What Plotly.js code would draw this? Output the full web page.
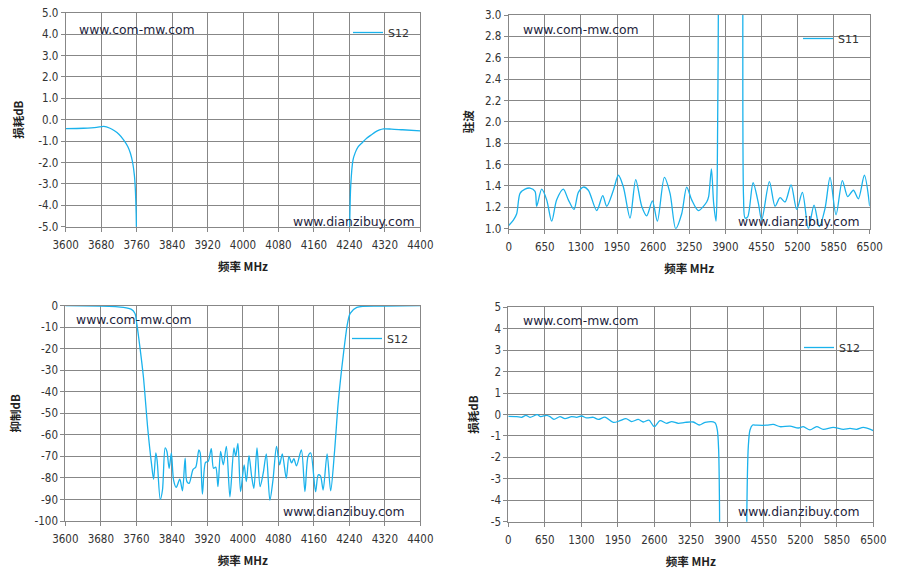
<!DOCTYPE html>
<html>
<head>
<meta charset="utf-8">
<script src="https://cdn.plot.ly/plotly-3.0.1.min.js"></script>
<style>
html,body{margin:0;padding:0;background:#fff;}
#chart{width:897px;height:580px;}
</style>
</head>
<body>
<div id="chart"></div>
<script>
// ---------- Data ----------
// Top-left: insertion loss S12, 3600-4400 MHz (dB)
const tlFreq = [3600, 3640, 3670, 3686, 3700, 3710, 3720, 3731, 3740, 3746, 3751, 3755, 3757, 3759, 3761, 3770, 4000, 4230, 4239, 4241, 4243, 4248, 4253, 4260, 4270, 4279, 4290, 4298, 4308, 4317, 4335, 4360, 4400];
const tlS12  = [-0.42, -0.40, -0.36, -0.31, -0.40, -0.52, -0.68, -0.95, -1.25, -1.57, -2.0, -2.6, -3.2, -4.4, -7, -30, -60, -30, -7, -4.6, -3.1, -1.9, -1.55, -1.26, -1.05, -0.87, -0.70, -0.58, -0.48, -0.43, -0.44, -0.47, -0.52];

// Top-right: VSWR S11, 0-6500 MHz
const trFreq = [0, 84, 144, 204, 294, 384, 474, 504, 594, 684, 774, 864, 984, 1074, 1176, 1254, 1344, 1434, 1585, 1693, 1765, 1885, 1975, 2065, 2185, 2287, 2395, 2485, 2587, 2677, 2803, 2905, 3007, 3115, 3205, 3295, 3415, 3565, 3600, 3650, 3690, 3733, 3755, 3778, 3790, 4000, 4205, 4215, 4228, 4255, 4303, 4400, 4495, 4555, 4694, 4796, 4886, 4976, 5084, 5186, 5288, 5396, 5498, 5594, 5696, 5786, 5894, 6008, 6104, 6206, 6296, 6404, 6500];
const trS11  = [1.03, 1.08, 1.14, 1.33, 1.37, 1.38, 1.35, 1.21, 1.37, 1.27, 1.07, 1.27, 1.37, 1.27, 1.18, 1.34, 1.39, 1.36, 1.17, 1.31, 1.21, 1.36, 1.50, 1.39, 1.10, 1.46, 1.21, 1.12, 1.26, 1.07, 1.48, 1.33, 1.00, 1.14, 1.39, 1.27, 1.17, 1.25, 1.30, 1.56, 1.24, 1.07, 1.5, 3.4, 6, 9, 6, 3.4, 1.3, 1.10, 1.11, 1.43, 1.24, 1.08, 1.44, 1.21, 1.29, 1.25, 1.41, 1.18, 1.34, 1.00, 1.22, 1.02, 1.19, 1.48, 1.13, 1.45, 1.30, 1.36, 1.28, 1.50, 1.21];

// Bottom-left: rejection S12, 3600-4400 MHz (dB)
const blFreq = [3600, 3678, 3731, 3749, 3757, 3761, 3768, 3776, 3786, 3794, 3799, 3804, 3807, 3814, 3819, 3825, 3829, 3834, 3839, 3844, 3850, 3858, 3864, 3870, 3874, 3879, 3888, 3894, 3901, 3904, 3909, 3916, 3922, 3929, 3934, 3939, 3944, 3950, 3956, 3963, 3971, 3980, 3984, 3989, 3995, 4003, 4008, 4014, 4020, 4025, 4032, 4039, 4046, 4053, 4061, 4068, 4076, 4083, 4089, 4098, 4104, 4110, 4115, 4121, 4132, 4140, 4147, 4153, 4164, 4170, 4175, 4181, 4190, 4198, 4207, 4215, 4227, 4236, 4242, 4257, 4317, 4400];
const blS12  = [0, -0.2, -0.8, -1.7, -3.6, -8.2, -19, -33, -57.5, -73, -80.6, -68.4, -72, -90, -85.6, -66, -67.7, -75.5, -68.4, -81, -84.4, -80.6, -86, -70.8, -81.7, -82.5, -76, -75, -67, -68.4, -87.5, -72.8, -72.3, -66.4, -75.5, -75, -84, -67.7, -73.9, -65.3, -88.8, -66.1, -70, -64, -86.4, -74, -81.7, -69.7, -79.4, -84.8, -66.1, -84, -77.8, -68.8, -90.3, -81, -65.3, -73.9, -68.8, -80.2, -70, -73, -71, -74.4, -67, -86.4, -70, -68.4, -86.4, -78.6, -79, -85.6, -68.8, -86, -67, -45, -22, -8.2, -3.6, -0.8, -0.2, 0];

// Bottom-right: insertion loss S12, 0-6500 MHz (dB)
const brFreq = [0, 148, 237, 315, 386, 516, 576, 683, 742, 813, 920, 1009, 1128, 1217, 1306, 1395, 1514, 1603, 1721, 1870, 1989, 2095, 2196, 2315, 2404, 2505, 2600, 2701, 2820, 2909, 3027, 3146, 3294, 3401, 3502, 3680, 3722, 3746, 3762, 3775, 4000, 4236, 4248, 4274, 4304, 4351, 4422, 4600, 4719, 4838, 5016, 5164, 5253, 5372, 5491, 5609, 5787, 5966, 6085, 6203, 6322, 6500];
const brS12  = [-0.09, -0.10, -0.13, -0.04, -0.13, -0.01, -0.10, -0.04, -0.10, -0.23, -0.10, -0.19, -0.10, -0.13, -0.07, -0.16, -0.13, -0.23, -0.12, -0.37, -0.29, -0.19, -0.33, -0.23, -0.35, -0.26, -0.57, -0.29, -0.41, -0.33, -0.41, -0.37, -0.35, -0.49, -0.37, -0.38, -0.72, -1.66, -4.5, -12, -60, -12, -4.5, -1.5, -0.72, -0.49, -0.50, -0.50, -0.46, -0.57, -0.54, -0.63, -0.57, -0.72, -0.57, -0.69, -0.60, -0.69, -0.65, -0.69, -0.60, -0.75];

// Tick values
const tickFreqNarrow = [3600, 3680, 3760, 3840, 3920, 4000, 4080, 4160, 4240, 4320, 4400];
const tickFreqWide   = [0, 650, 1300, 1950, 2600, 3250, 3900, 4550, 5200, 5850, 6500];
const tickLoss = [-5, -4, -3, -2, -1, 0, 1, 2, 3, 4, 5];
const tickVswr = [1.0, 1.2, 1.4, 1.6, 1.8, 2.0, 2.2, 2.4, 2.6, 2.8, 3.0];
const tickRej  = [-100, -90, -80, -70, -60, -50, -40, -30, -20, -10, 0];

// ---------- Styling ----------
const W = 897, H = 580;
const LINE = '#1ab2ec';
const GRID = '#878787';
const TXT = '#333333';
const tickFont = {family: 'DejaVu Sans Condensed, DejaVu Sans, sans-serif', size: 11.5, color: TXT};
const titleFont = {family: 'Noto Sans CJK SC, DejaVu Sans, sans-serif', size: 11.5, color: '#222'};
const wmFont = {family: 'DejaVu Sans, sans-serif', size: 12.4, color: '#1e1e3c'};

function px(x) { return x / W; }
function py(y) { return 1 - y / H; }

function axis(domain, vals, text, extra) {
  return Object.assign({
    domain: domain,
    tickmode: 'array', tickvals: vals, ticktext: text,
    showgrid: true, gridcolor: GRID, gridwidth: 1,
    showline: true, linecolor: GRID, linewidth: 1, mirror: true,
    ticks: 'outside', ticklen: 4, tickcolor: GRID, tickwidth: 1,
    zeroline: false, tickfont: tickFont, fixedrange: true
  }, extra || {});
}
const fmt = (d) => (v) => v.toFixed(d);
const xTitle = {text: '<b>频率 MHz</b>', font: titleFont, standoff: 12};
function yTitle(t, s) { return {text: '<b>' + t + '</b>', font: titleFont, standoff: s}; }

const lineStyle = {color: LINE, width: 1.3, shape: 'spline', smoothing: 0.8};
const traces = [
  {x: tlFreq, y: tlS12, xaxis: 'x', yaxis: 'y', name: 'S12', legend: 'legend', mode: 'lines', line: lineStyle},
  {x: trFreq, y: trS11, xaxis: 'x2', yaxis: 'y2', name: 'S11', legend: 'legend2', mode: 'lines', line: lineStyle},
  {x: blFreq, y: blS12, xaxis: 'x3', yaxis: 'y3', name: 'S12', legend: 'legend3', mode: 'lines', line: lineStyle},
  {x: brFreq, y: brS12, xaxis: 'x4', yaxis: 'y4', name: 'S12', legend: 'legend4', mode: 'lines', line: lineStyle}
];

function legendAt(left, top) {
  return {x: px(left), y: py(top), xanchor: 'left', yanchor: 'top',
          bgcolor: 'rgba(255,255,255,0)', borderwidth: 0,
          font: {family: 'DejaVu Sans, sans-serif', size: 11, color: TXT}};
}
// white legend boxes (drawn above gridlines, below traces)
function box(x0, y0, x1, y1) {
  return {type: 'rect', xref: 'paper', yref: 'paper', layer: 'between',
          x0: px(x0), x1: px(x1), y0: py(y1), y1: py(y0),
          fillcolor: '#ffffff', line: {width: 0}};
}
function wm(text, x, y, anchor) {
  return {text: text, xref: 'paper', yref: 'paper', x: px(x), y: py(y),
          xanchor: anchor, yanchor: 'middle', showarrow: false, font: wmFont};
}

const layout = {
  width: W, height: H,
  margin: {l: 0, r: 0, t: 0, b: 0},
  paper_bgcolor: '#ffffff', plot_bgcolor: '#ffffff',
  showlegend: true,
  xaxis:  axis([px(65.7), px(420.3)], tickFreqNarrow, tickFreqNarrow.map(String), {range: [3600, 4400], anchor: 'y', title: xTitle, ticklabelstandoff: 3}),
  yaxis:  axis([py(226.7), py(12.7)], tickLoss, tickLoss.map(fmt(1)), {range: [-5, 5], anchor: 'x', title: yTitle('损耗dB', 12)}),
  xaxis2: axis([px(508.7), px(869.7)], tickFreqWide, tickFreqWide.map(String), {range: [0, 6500], anchor: 'y2', title: xTitle, ticklabelstandoff: 3}),
  yaxis2: axis([py(228.7), py(15)], tickVswr, tickVswr.map(fmt(1)), {range: [1, 3], anchor: 'x2', title: yTitle('驻波', 8)}),
  xaxis3: axis([px(65.3), px(420.3)], tickFreqNarrow, tickFreqNarrow.map(String), {range: [3600, 4400], anchor: 'y3', title: xTitle, ticklabelstandoff: 3}),
  yaxis3: axis([py(521), py(305.7)], tickRej, tickRej.map(fmt(0)), {range: [-100, 0], anchor: 'x3', title: yTitle('抑制dB', 11)}),
  xaxis4: axis([px(508.3), px(873.3)], tickFreqWide, tickFreqWide.map(String), {range: [0, 6500], anchor: 'y4', title: xTitle, ticklabelstandoff: 3}),
  yaxis4: axis([py(521.7), py(307.3)], tickLoss, tickLoss.map(fmt(0)), {range: [-5, 5], anchor: 'x4', title: yTitle('损耗dB', 9)}),
  legend:  legendAt(348, 18),
  legend2: legendAt(798, 24),
  legend3: legendAt(347, 324),
  legend4: legendAt(799, 333),
  shapes: [
    box(353, 27, 411, 44),
    box(798, 17, 856, 57),
    box(348, 315, 407, 364),
    box(803, 323, 865, 373)
  ],
  annotations: [
    wm('www.com-mw.com', 76.7, 30, 'left'),
    wm('www.dianzibuy.com', 416.7, 221.7, 'right'),
    wm('www.com-mw.com', 521, 30, 'left'),
    wm('www.dianzibuy.com', 861.7, 221.7, 'right'),
    wm('www.com-mw.com', 74, 319, 'left'),
    wm('www.dianzibuy.com', 407.3, 511.7, 'right'),
    wm('www.com-mw.com', 521, 320, 'left'),
    wm('www.dianzibuy.com', 861.7, 511.7, 'right')
  ]
};

Plotly.newPlot('chart', traces, layout, {displayModeBar: false, staticPlot: true});
</script>
</body>
</html>
